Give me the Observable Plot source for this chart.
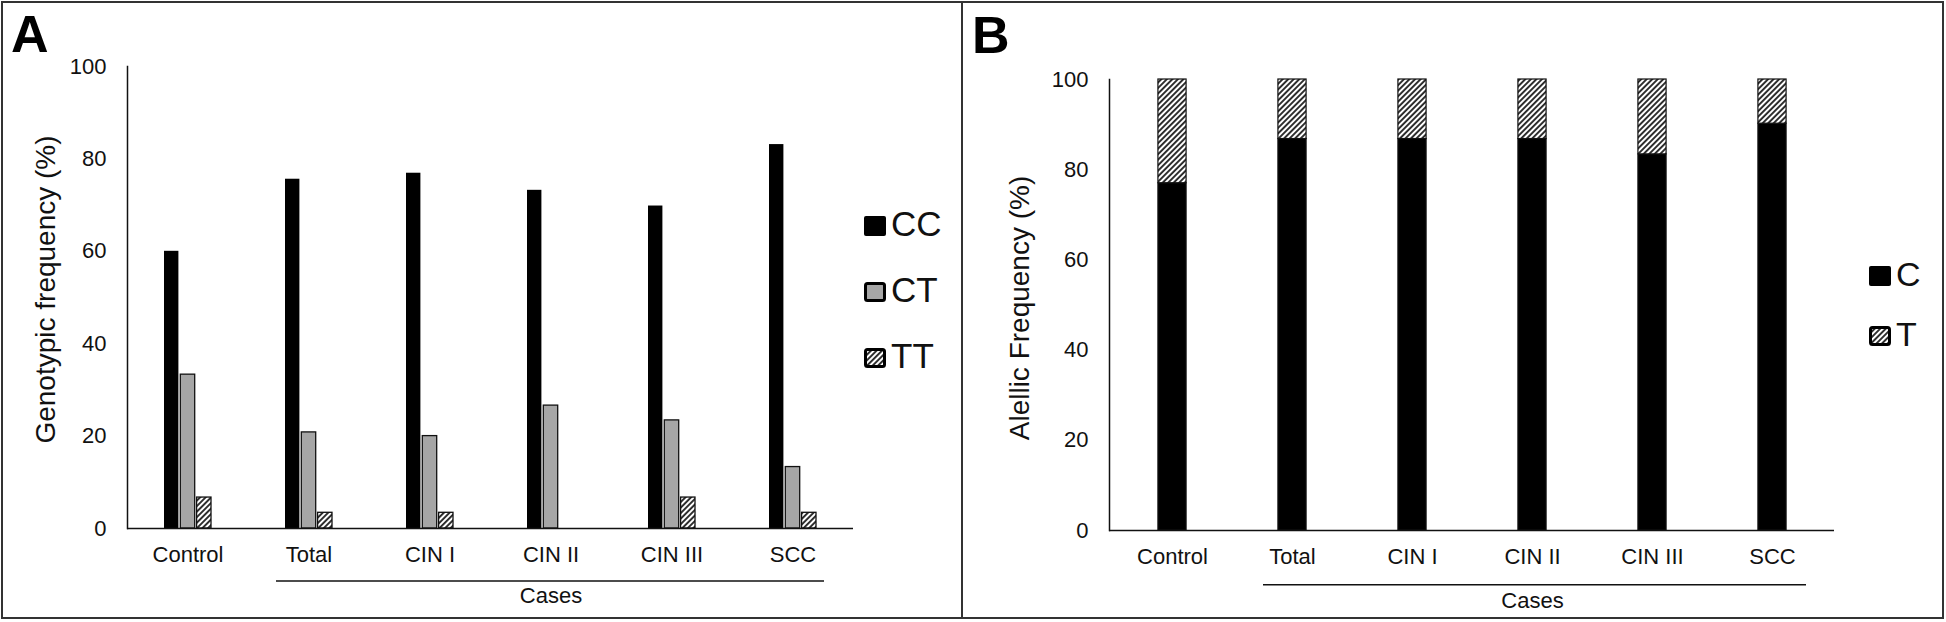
<!DOCTYPE html>
<html>
<head>
<meta charset="utf-8">
<script src="https://cdn.jsdelivr.net/npm/d3@7"></script>
<script src="https://cdn.jsdelivr.net/npm/@observablehq/plot@0.6"></script>
<style>
  html, body { margin: 0; padding: 0; background: #fff; }
  #root { position: relative; width: 1946px; height: 622px; overflow: hidden;
          font-family: "Liberation Sans", Arial, sans-serif; color: #111; }
  .panel { position: absolute; top: 1px; height: 618px; border: 2px solid #333; box-sizing: border-box; }
  .chart { position: absolute; top: 0; }
  .chart svg { background: none; overflow: visible; max-width: none; }
  .letter { position: absolute; font-weight: bold; font-size: 52px; line-height: 52px; color: #000; }
  #legend { position: absolute; left: 0; top: 0; pointer-events: none; }
</style>
</head>
<body>
<div id="root">
  <svg width="0" height="0" style="position:absolute">
    <defs>
      <pattern id="hatch" patternUnits="userSpaceOnUse" width="3.9" height="3.9" patternTransform="rotate(45)">
        <rect width="3.9" height="3.9" fill="#fff"></rect>
        <line x1="1.95" y1="0" x2="1.95" y2="3.9" stroke="#000" stroke-width="1.6"></line>
      </pattern>
    </defs>
  </svg>
  <div class="panel" style="left:1px;width:962px;"></div>
  <div class="panel" style="left:961px;width:983px;"></div>
  <div id="chartA" class="chart" style="left:0px;"></div>
  <div id="chartB" class="chart" style="left:962px;"></div>
  <div class="letter" style="left:11px;top:8px;">A</div>
  <div class="letter" style="left:972px;top:9px;">B</div>
</div>
<script>
// ---------- data ----------
const categories = ["Control", "Total", "CIN I", "CIN II", "CIN III", "SCC"];
const genotypes = ["CC", "CT", "TT"];
const ccValues = [60.0, 75.6, 76.9, 73.2, 69.8, 83.1];
const ctValues = [33.3, 20.8, 20.0, 26.6, 23.4, 13.3];
const ttValues = [6.7, 3.4, 3.4, 0, 6.7, 3.4];
const alleles = ["C", "T"];
const cValues = [77.0, 86.8, 86.8, 86.8, 83.4, 90.2];
const tValues = [23.0, 13.2, 13.2, 13.2, 16.6, 9.8];
const yTicks = [0, 20, 40, 60, 80, 100];
const caseGroup = {label: "Cases", from: "Total", to: "SCC"};
const titleA = "Genotypic frequency (%)";
const titleB = "Alellic Frequency (%)";

// ---------- styles ----------
const genoFills = ["#000000", "#a6a6a6", "url(#hatch)"];
const alleleFills = ["#000000", "url(#hatch)"];
const ink = "#111";
const fontFamily = "'Liberation Sans', Arial, sans-serif";

const genoSeries = [ccValues, ctValues, ttValues];
const genoRows = categories.flatMap((c, i) =>
  genotypes.map((g, j) => ({category: c, genotype: g, value: genoSeries[j][i]})));
const alleleSeries = [cValues, tValues];
const alleleRows = categories.flatMap((c, i) =>
  alleles.map((a, j) => ({category: c, allele: a, value: alleleSeries[j][i]})));

const midCategory = g => categories[(categories.indexOf(g.from) + categories.indexOf(g.to)) / 2];

// ---------- panel A ----------
{
  const W = 962, H = 622, mL = 127, mR = 109, mT = 66, mB = 94;
  const bw = (W - mL - mR) / categories.length;
  const barW = 14.4, step = 16.3;
  const chart = Plot.plot({
    width: W, height: H,
    marginLeft: mL, marginRight: mR, marginTop: mT, marginBottom: mB,
    style: {fontFamily, color: ink, background: "none", overflow: "visible"},
    x: {domain: categories, padding: 0},
    y: {domain: [0, 100]},
    color: {domain: genotypes, range: genoFills},
    marks: [
      ...genotypes.map((g, j) => Plot.barY(genoRows.filter(d => d.genotype === g && d.value > 0), {
        x: "category", y: "value", fill: "genotype",
        stroke: j === 0 ? "none" : ink, strokeWidth: 1.3,
        insetLeft: (bw - barW) / 2, insetRight: (bw - barW) / 2, dx: (j - 1) * step
      })),
      Plot.frame({anchor: "left", stroke: ink, strokeWidth: 1.5}),
      Plot.ruleY([0], {stroke: ink, strokeWidth: 1.5}),
      Plot.axisY({ticks: yTicks, tickSize: 0, tickPadding: 21, fontSize: 22, label: null}),
      Plot.axisX({tickSize: 0, tickPadding: 18, fontSize: 22, label: null}),
      Plot.ruleY([caseGroup], {x1: "from", x2: "to", y: () => 0, dy: 52.4,
        insetLeft: 28, insetRight: 29, stroke: ink, strokeWidth: 1.5}),
      Plot.text([caseGroup], {x: midCategory, y: () => 0, text: "label", dy: 59,
        lineAnchor: "top", fontSize: 22, fill: ink}),
      Plot.text([titleA], {text: d => d, frameAnchor: "left", textAnchor: "middle", rotate: -90,
        dx: -81, dy: -8, fontSize: 28, fill: ink})
    ]
  });
  document.getElementById("chartA").appendChild(chart);
}

// ---------- panel B ----------
{
  const W = 984, H = 622, mL = 147, mR = 112, mT = 79, mB = 92;
  const bw = (W - mL - mR) / categories.length;
  const barW = 29;
  const chart = Plot.plot({
    width: W, height: H,
    marginLeft: mL, marginRight: mR, marginTop: mT, marginBottom: mB,
    style: {fontFamily, color: ink, background: "none", overflow: "visible"},
    x: {domain: categories, padding: 0},
    y: {domain: [0, 100]},
    color: {domain: alleles, range: alleleFills},
    marks: [
      Plot.barY(alleleRows, Plot.stackY({
        x: "category", y: "value", z: "allele", fill: "allele", order: alleles,
        stroke: ink, strokeWidth: 1.2,
        insetLeft: (bw - barW) / 2, insetRight: (bw - barW) / 2
      })),
      Plot.frame({anchor: "left", stroke: ink, strokeWidth: 1.5}),
      Plot.ruleY([0], {stroke: ink, strokeWidth: 1.5}),
      Plot.axisY({ticks: yTicks, tickSize: 0, tickPadding: 21, fontSize: 22, label: null}),
      Plot.axisX({tickSize: 0, tickPadding: 18, fontSize: 22, label: null}),
      Plot.ruleY([caseGroup], {x1: "from", x2: "to", y: () => 0, dy: 54.3,
        insetLeft: 31, insetRight: 26, stroke: ink, strokeWidth: 1.5}),
      Plot.text([caseGroup], {x: midCategory, y: () => 0, text: "label", dy: 61.5,
        lineAnchor: "top", fontSize: 22, fill: ink}),
      Plot.text([titleB], {text: d => d, frameAnchor: "left", textAnchor: "middle", rotate: -90,
        dx: -89, dy: 3, fontSize: 28, fill: ink})
    ]
  });
  document.getElementById("chartB").appendChild(chart);
}

// ---------- legends ----------
{
  const svg = d3.select("#root").append("svg").attr("id", "legend")
    .attr("width", 1946).attr("height", 622);
  const legends = [
    {keys: genotypes, fills: genoFills, x: 864, top: 216, gap: 66, font: 35, strokes: [0, 3, 3]},
    {keys: alleles, fills: alleleFills, x: 1869, top: 266, gap: 60, font: 34, strokes: [0, 3]}
  ];
  for (const L of legends) {
    L.keys.forEach((k, i) => {
      const y = L.top + i * L.gap;
      svg.append("rect").attr("x", L.x + L.strokes[i] / 2).attr("y", y + L.strokes[i] / 2)
        .attr("width", 22 - L.strokes[i]).attr("height", 20 - L.strokes[i]).attr("rx", 2)
        .attr("fill", L.fills[i]).attr("stroke", L.strokes[i] ? "#000" : "none")
        .attr("stroke-width", L.strokes[i]);
      svg.append("text").attr("x", L.x + 27).attr("y", y + 20)
        .attr("font-family", fontFamily).attr("font-size", L.font).attr("fill", ink).text(k);
    });
  }
}
</script>
</body>
</html>
